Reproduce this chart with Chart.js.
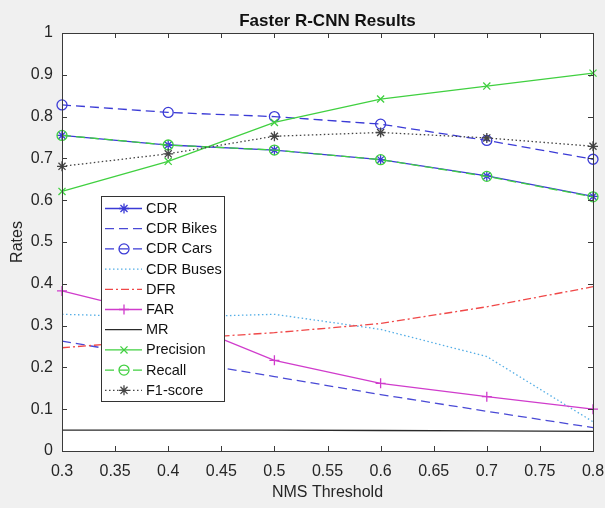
<!DOCTYPE html>
<html>
<head>
<meta charset="utf-8">
<script src="https://cdn.jsdelivr.net/npm/chart.js@4.4.1/dist/chart.umd.min.js"></script>
<style>
  html, body { margin: 0; padding: 0; background: #f0f0f0; }
  #wrap { width: 605px; height: 508px; }
</style>
</head>
<body>
<div id="wrap"><canvas id="chart"></canvas></div>
<script>
// values
const thresholds = [0.3, 0.4, 0.5, 0.6, 0.7, 0.8];
const cdr       = [0.755, 0.732, 0.720, 0.697, 0.658, 0.609];
const cdrBikes  = [0.263, 0.220, 0.178, 0.135, 0.095, 0.056];
const cdrCars   = [0.828, 0.810, 0.800, 0.782, 0.743, 0.698];
const cdrBuses  = [0.327, 0.320, 0.327, 0.291, 0.226, 0.070];
const dfr       = [0.247, 0.267, 0.283, 0.305, 0.345, 0.393];
const far       = [0.383, 0.320, 0.217, 0.162, 0.130, 0.100];
const mr        = [0.050, 0.050, 0.050, 0.049, 0.048, 0.047];
const precision = [0.621, 0.693, 0.786, 0.842, 0.873, 0.904];
const recall    = [0.755, 0.732, 0.720, 0.697, 0.657, 0.608];
const f1score   = [0.681, 0.711, 0.753, 0.762, 0.749, 0.729];

const xTicks = [0.3, 0.35, 0.4, 0.45, 0.5, 0.55, 0.6, 0.65, 0.7, 0.75, 0.8];
const yTicks = [0, 0.1, 0.2, 0.3, 0.4, 0.5, 0.6, 0.7, 0.8, 0.9, 1];

const FONT = '"Liberation Sans", Arial, Helvetica, sans-serif';

function series(label, values, color, dash, pointStyle) {
  return {
    label: label,
    data: values.map((v, i) => ({ x: thresholds[i], y: v })),
    borderColor: color,
    backgroundColor: 'rgba(0,0,0,0)',
    borderWidth: 1.3,
    borderDash: dash,
    pointStyle: pointStyle || false,
    pointRadius: pointStyle ? 5 : 0,
    pointBorderColor: color,
    pointBackgroundColor: 'rgba(0,0,0,0)',
    pointBorderWidth: 1.3,
    tension: 0,
    fill: false,
    clip: false
  };
}

const datasets = [
  series('CDR',        cdr,       '#3b3bd6', [],            'star'),
  series('CDR Bikes',  cdrBikes,  '#4a4ad6', [9, 5],        null),
  series('CDR Cars',   cdrCars,   '#3b3bd6', [9, 5],        'circle'),
  series('CDR Buses',  cdrBuses,  '#55aee6', [1.5, 2.5],    null),
  series('DFR',        dfr,       '#f04848', [8, 3, 2, 3],  null),
  series('FAR',        far,       '#d03ccc', [],            'cross'),
  series('MR',         mr,        '#2a2a2a', [],            null),
  series('Precision',  precision, '#40d040', [],            'crossRot'),
  series('Recall',     recall,    '#40d040', [9, 5],        'circle'),
  series('F1-score',   f1score,   '#444444', [1.5, 2.5],    'star')
];
// matlab draws later lines on top
datasets.forEach((d, i) => { d.order = -i; });

// white plot area, matlab style box with inward ticks, legend inside the axes
const matlabAxes = {
  id: 'matlabAxes',
  beforeDraw(chart) {
    const { ctx, chartArea: a } = chart;
    ctx.save();
    ctx.fillStyle = '#ffffff';
    ctx.fillRect(a.left, a.top, a.right - a.left, a.bottom - a.top);
    ctx.restore();
  },
  afterDraw(chart) {
    const { ctx, chartArea: a } = chart;
    const xs = chart.scales.x, ys = chart.scales.y;
    ctx.save();
    ctx.strokeStyle = '#3a3a3a';
    ctx.lineWidth = 1;
    ctx.setLineDash([]);
    ctx.beginPath();
    xTicks.forEach(t => {
      const px = Math.round(xs.getPixelForValue(t)) + 0.5;
      ctx.moveTo(px, a.bottom); ctx.lineTo(px, a.bottom - 5);
      ctx.moveTo(px, a.top); ctx.lineTo(px, a.top + 5);
    });
    yTicks.forEach(t => {
      const py = Math.round(ys.getPixelForValue(t)) + 0.5;
      ctx.moveTo(a.left, py); ctx.lineTo(a.left + 5, py);
      ctx.moveTo(a.right, py); ctx.lineTo(a.right - 5, py);
    });
    ctx.stroke();
    ctx.strokeRect(Math.round(a.left) + 0.5, Math.round(a.top) + 0.5,
      Math.round(a.right - a.left), Math.round(a.bottom - a.top));

    // legend box
    const bx = 101.5, by = 196.5, bw = 123, bh = 205;
    ctx.fillStyle = '#ffffff';
    ctx.fillRect(bx, by, bw, bh);
    ctx.strokeStyle = '#333333';
    ctx.strokeRect(bx, by, bw, bh);

    const rowH = 20.2;
    ctx.font = '14.5px ' + FONT;
    ctx.textBaseline = 'middle';
    ctx.textAlign = 'left';
    chart.data.datasets.forEach((d, i) => {
      const y = 208.5 + i * rowH;
      ctx.strokeStyle = d.borderColor;
      ctx.lineWidth = d.borderWidth;
      ctx.setLineDash(d.borderDash);
      ctx.beginPath();
      ctx.moveTo(105, y);
      ctx.lineTo(142, y);
      ctx.stroke();
      ctx.setLineDash([]);
      if (d.pointStyle) {
        ctx.strokeStyle = d.pointBorderColor;
        ctx.fillStyle = 'rgba(0,0,0,0)';
        ctx.lineWidth = d.pointBorderWidth;
        Chart.helpers.drawPoint(ctx, { pointStyle: d.pointStyle, rotation: 0, radius: 5, borderWidth: d.pointBorderWidth }, 124, y);
      }
      ctx.fillStyle = '#111111';
      ctx.fillText(d.label, 146, y + 0.5);
    });
    ctx.restore();
  }
};

new Chart(document.getElementById('chart'), {
  type: 'line',
  data: { datasets: datasets },
  plugins: [matlabAxes],
  options: {
    responsive: true,
    maintainAspectRatio: false,
    animation: false,
    layout: { padding: { left: 0, right: 0, top: 0, bottom: 0 } },
    plugins: {
      legend: { display: false },
      tooltip: { enabled: false },
      title: {
        display: true,
        fullSize: false,
        text: 'Faster R-CNN Results',
        color: '#111111',
        font: { family: FONT, size: 17, weight: 'bold' },
        padding: { top: 11, bottom: 1.6 }
      }
    },
    scales: {
      x: {
        type: 'linear',
        min: 0.3,
        max: 0.8,
        afterBuildTicks: s => { s.ticks = xTicks.map(v => ({ value: v })); },
        afterFit: s => { s.height = 57; s.paddingLeft = 0; s.paddingRight = 12; },
        grid: { display: false, drawTicks: false },
        border: { display: false },
        ticks: {
          padding: 11,
          color: '#262626',
          font: { family: FONT, size: 16 },
          maxRotation: 0,
          autoSkip: false,
          callback: v => String(+v.toFixed(2))
        },
        title: {
          display: true,
          text: 'NMS Threshold',
          color: '#262626',
          font: { family: FONT, size: 16 },
          padding: { top: 0, bottom: 6 }
        }
      },
      y: {
        min: 0,
        max: 1,
        afterBuildTicks: s => { s.ticks = yTicks.map(v => ({ value: v })); },
        afterFit: s => { s.width = 62; },
        grid: { display: false, drawTicks: false },
        border: { display: false },
        ticks: {
          padding: 9,
          color: '#262626',
          font: { family: FONT, size: 16 },
          autoSkip: false,
          callback: v => String(+v.toFixed(2))
        },
        title: {
          display: true,
          text: 'Rates',
          color: '#262626',
          font: { family: FONT, size: 16 },
          padding: { top: 8, bottom: 0 }
        }
      }
    }
  }
});
</script>
</body>
</html>
